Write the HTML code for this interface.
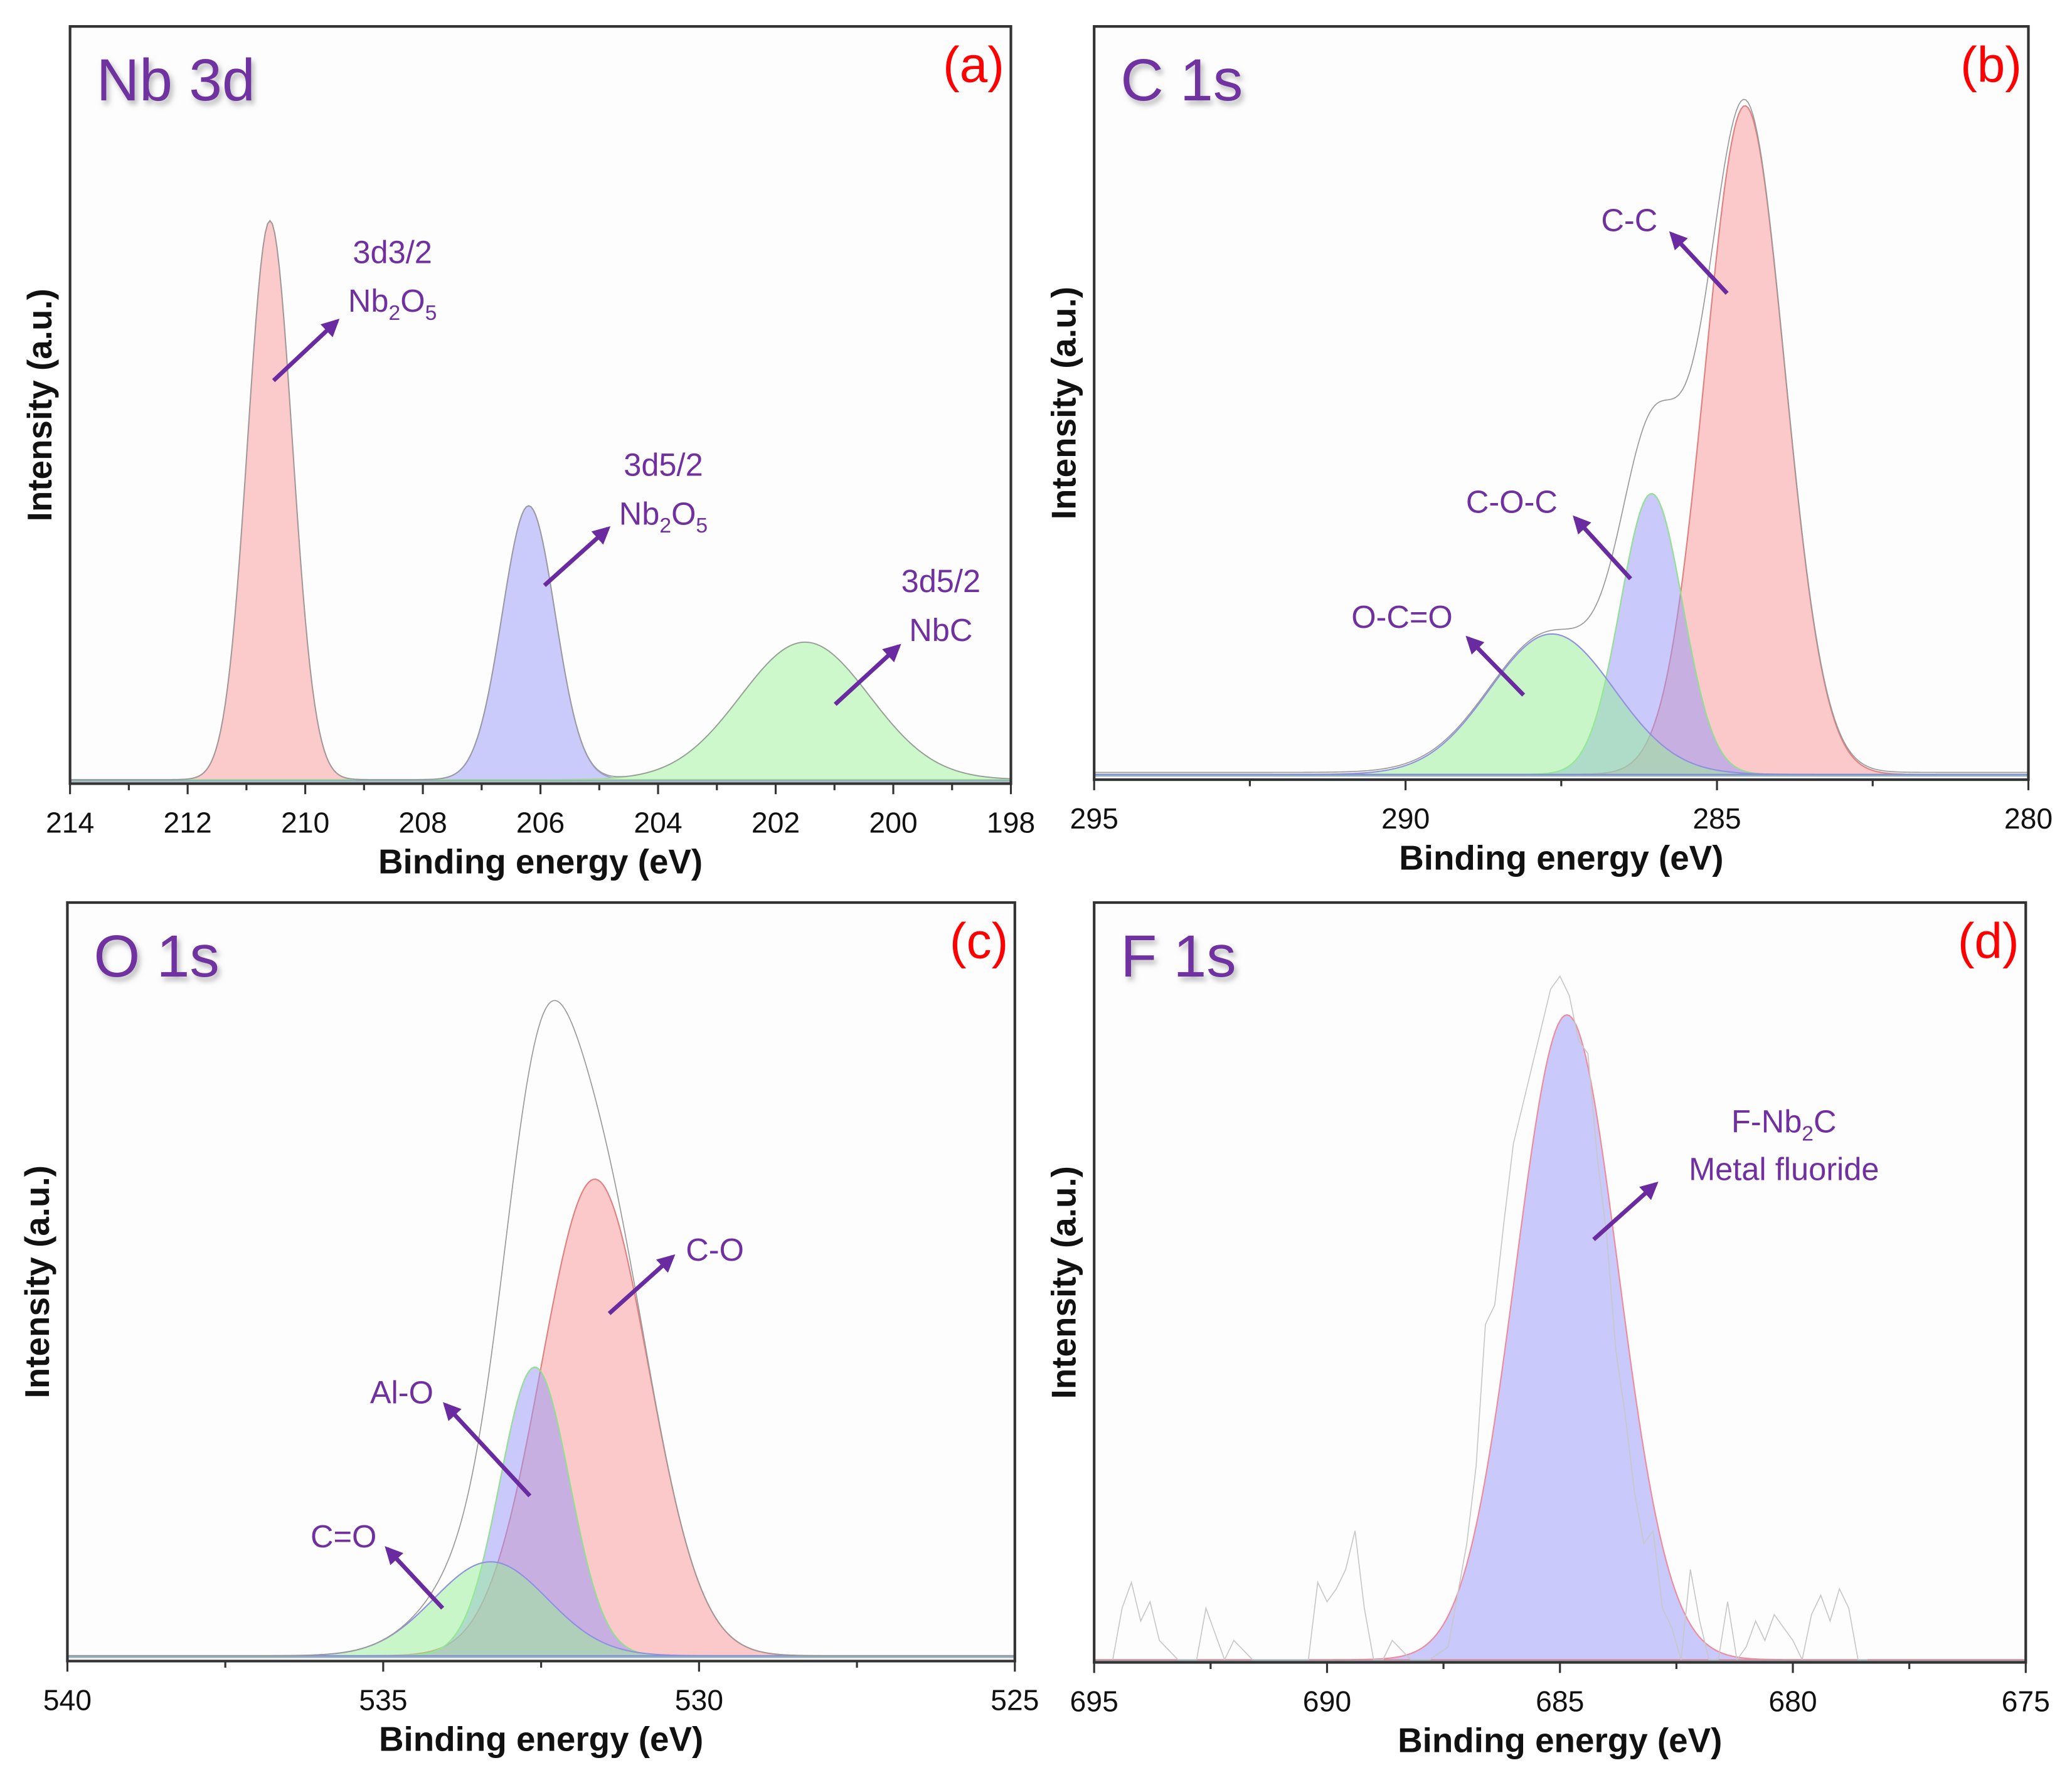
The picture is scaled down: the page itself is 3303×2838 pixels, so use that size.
<!DOCTYPE html>
<html><head><meta charset="utf-8">
<style>
html,body{margin:0;padding:0;background:#fff;}
svg{display:block;}
text{font-family:"Liberation Sans",Arial,sans-serif;}
</style></head>
<body>
<svg id="fig" width="3303" height="2838" viewBox="0 0 1568 1347" preserveAspectRatio="none" xmlns="http://www.w3.org/2000/svg">
<defs>
<marker id="ah" viewBox="0 0 10 10" refX="8" refY="5" markerWidth="4.2" markerHeight="4.2" orient="auto"><path d="M0,0 L10,5 L0,10 z" fill="#6a2aa0"/></marker>
<filter id="sh" x="-10%" y="-10%" width="130%" height="140%"><feDropShadow dx="2" dy="3" stdDeviation="2" flood-color="#888" flood-opacity="0.6"/></filter>
</defs>
<rect x="0" y="0" width="1568" height="1347" fill="#fff"/>
<g id="layer"></g>
</svg>
<script>
// ---------- data ----------
const aCenters=[210.6,206.2,201.5];
const aHeights=[100,49,24.6];
const aWidths=[0.38,0.45,1.1];
const bCenters=[284.55,286.05,287.65];
const bHeights=[100,42,21];
const bWidths=[0.64,0.5,1.0];
const cCenters=[531.65,532.6,533.3];
const cHeights=[71,43,14];
const cWidths=[0.85,0.55,0.9];
const dCenters=[684.85];
const dHeights=[100];
const dWidths=[1.1];
const dRawEV=[694.6,694.4,694.2,694.0,693.8,693.6,693.2,692.8,692.6,692.2,692.0,691.6,691.2,690.8,690.4,690.2,690.0,689.8,689.6,689.4,689.2,689.0,688.8,688.6,688.2,687.8,687.4,687.2,687.0,686.8,686.6,686.4,686.2,686.0,685.8,685.6,685.4,685.2,685.0,684.8,684.6,684.4,684.2,684.0,683.8,683.6,683.4,683.2,683.0,682.8,682.6,682.4,682.2,682.0,681.8,681.6,681.4,681.2,681.0,680.8,680.6,680.4,680.2,680.0,679.8,679.6,679.4,679.2,679.0,678.8,678.6,678.4];
const dRawI=[0,8,12,6,9,3,0,0,8,0,3,0,0,0,0,12,9,11,14,20,8,0,0,3,0,0,2,10,18,30,52,55,68,80,86,92,98,104,106,103,96,94,78,66,48,38,26,18,20,8,5,0,14,6,0,0,9,0,2,6,3,7,5,3,0,7,10,6,11,8,0,0];
const xTicksA=[214,212,210,208,206,204,202,200,198];
const xTicksB=[295,290,285,280];
const xTicksC=[540,535,530,525];
const xTicksD=[695,690,685,680,675];

const NS='http://www.w3.org/2000/svg';
const layer=document.getElementById('layer');
function mk(tag,attrs,parent){const e=document.createElementNS(NS,tag);for(const k in attrs)e.setAttribute(k,attrs[k]);(parent||layer).appendChild(e);return e;}
function gauss(x,c,h,s){return h*Math.exp(-0.5*((x-c)/s)**2);}

const panels=[
 {id:'a',x0:53,x1:765,y0:20,yb:593,base:590,lo:214,hi:198,sc:4.23,C:aCenters,H:aHeights,W:aWidths,ticks:xTicksA,minor:1,title:'Nb 3d',
  fills:['#fbcaca','#cacafb','#ccf8cc'],strokes:['#d89a9a','#a0a0d8','#a8d8a8']},
 {id:'b',x0:828,x1:1535,y0:20,yb:590,base:586,lo:295,hi:280,sc:5.06,C:bCenters,H:bHeights,W:bWidths,ticks:xTicksB,minor:2.5,title:'C 1s',
  fills:['rgba(250,150,150,0.5)','rgba(150,150,250,0.5)','rgba(150,240,150,0.5)'],strokes:['#e08080','#90e090','#9090e0']},
 {id:'c',x0:51,x1:768,y0:683,yb:1257,base:1253,lo:540,hi:525,sc:5.08,C:cCenters,H:cHeights,W:cWidths,ticks:xTicksC,minor:2.5,title:'O 1s',
  fills:['rgba(250,150,150,0.5)','rgba(150,150,250,0.5)','rgba(150,240,150,0.5)'],strokes:['#e08080','#90e090','#9090e0']},
 {id:'d',x0:828,x1:1533,y0:683,yb:1258,base:1256,lo:695,hi:675,sc:4.88,C:dCenters,H:dHeights,W:dWidths,ticks:xTicksD,minor:2.5,title:'F 1s',
  fills:['rgba(150,150,250,0.5)'],strokes:['#f08a9a']}
];

panels.forEach(p=>{
  const g=mk('g',{});
  
  
  const X=v=>p.x0+(p.lo-v)/(p.lo-p.hi)*(p.x1-p.x0);
  const Y=v=>p.base-v*p.sc;
  mk('rect',{x:p.x0,y:p.y0,width:p.x1-p.x0,height:p.yb-p.y0,fill:'#fdfdfd',stroke:'none'},g);
  const N=400;
  p.C.forEach((c,i)=>{
    let d='M'+X(p.lo)+','+Y(0);
    for(let k=0;k<=N;k++){const v=p.lo+(p.hi-p.lo)*k/N;d+=' L'+X(v).toFixed(2)+','+Y(gauss(v,c,p.H[i],p.W[i])).toFixed(2);}
    d+=' L'+X(p.hi)+','+Y(0)+' Z';
    const e=mk('path',{d:d,fill:p.fills[i],stroke:p.strokes[i],'stroke-width':1},g);
    
    
  });
  if(p.id!=='d'){
    let d='';
    for(let k=0;k<=N;k++){const v=p.lo+(p.hi-p.lo)*k/N;let s=0;p.C.forEach((c,i)=>s+=gauss(v,c,p.H[i],p.W[i]));d+=(k?' L':'M')+X(v).toFixed(2)+','+(Y(s)-(p.id==='b'?1.5:0)).toFixed(2);}
    const e=mk('path',{d:d,fill:'none',stroke:'#9a9a9a','stroke-width':0.8},g);
    
    
  } else {
    let d='';
    dRawEV.forEach((v,k)=>{d+=(k?' L':'M')+X(v).toFixed(2)+','+Y(dRawI[k]).toFixed(2);});
    const e=mk('path',{d:d,fill:'none',stroke:'#c8c8c8','stroke-width':0.8},g);
    
    
  }
  mk('line',{x1:p.x0,x2:p.x1,y1:p.base+1,y2:p.base+1,stroke:'#5a8a9a','stroke-width':1.5,opacity:0.6},g);
  const fr=mk('rect',{x:p.x0,y:p.y0,width:p.x1-p.x0,height:p.yb-p.y0,fill:'none',stroke:'#333','stroke-width':2},g);
  
  
  for(let v=p.lo;v>=p.hi-1e-6;v-=p.minor){
    const major=p.ticks.some(t=>Math.abs(t-v)<1e-6);
    mk('line',{x1:X(v),x2:X(v),y1:p.yb,y2:p.yb+(major?8:5),stroke:'#333','stroke-width':1.5},g);
  }
  p.ticks.forEach(t=>{
    const e=mk('text',{x:X(t),y:p.yb+37,'font-size':22,'text-anchor':'middle',fill:'#111'},g);
    e.textContent=t;
    
    
  });
  const xt=mk('text',{x:(p.x0+p.x1)/2,y:p.yb+68,'font-size':26,'font-weight':'bold','text-anchor':'middle',fill:'#111'},g);
  xt.textContent='Binding energy (eV)';
  
  
  const cy=(p.y0+p.yb)/2;
  const yt=mk('text',{x:0,y:0,transform:'translate('+(p.x0-14)+','+cy+') rotate(-90)','font-size':26,'font-weight':'bold','text-anchor':'middle',fill:'#111'},g);
  yt.textContent='Intensity (a.u.)';
  
  
  const tt=mk('text',{x:p.x0+20,y:p.y0+56,'font-size':45,fill:'#7030a0',filter:'url(#sh)'},g);
  tt.textContent=p.title;
  
  
  const lt=mk('text',{x:p.x1-5,y:p.y0+42,'font-size':38,fill:'#ff0000','text-anchor':'end'},g);
  lt.textContent='('+p.id+')';
  
  
});

function arrow(x1,y1,x2,y2){const e=mk('line',{x1:x1,y1:y1,x2:x2,y2:y2,stroke:'#6a2aa0','stroke-width':3.2,'marker-end':'url(#ah)'});
  
  }
function label(x,y,html){const e=mk('text',{x:x,y:y,'font-size':24,fill:'#7030a0','text-anchor':'middle'});e.innerHTML=html;
  
  }
const sub='<tspan font-size="16" dy="6">';
arrow(207,288,255,243); label(297,199,'3d3/2'); label(297,236,'Nb'+sub+'2</tspan><tspan dy="-6">O</tspan>'+sub+'5</tspan>');
arrow(412,443,460,400); label(502,360,'3d5/2'); label(502,397,'Nb'+sub+'2</tspan><tspan dy="-6">O</tspan>'+sub+'5</tspan>');
arrow(632,533,680,489); label(712,448,'3d5/2'); label(712,485,'NbC');
arrow(1307,222,1265,177); label(1233,175,'C-C');
arrow(1234,438,1192,392); label(1144,388,'C-O-C');
arrow(1153,526,1111,483); label(1061,475,'O-C=O');
arrow(461,994,509,951); label(541,954,'C-O');
arrow(401,1132,337,1063); label(304,1062,'Al-O');
arrow(335,1217,293,1172); label(260,1171,'C=O');
arrow(1206,938,1253,896); label(1350,857,'F-Nb'+sub+'2</tspan><tspan dy="-6">C</tspan>'); label(1350,893,'Metal fluoride');
</script>
</body></html>
